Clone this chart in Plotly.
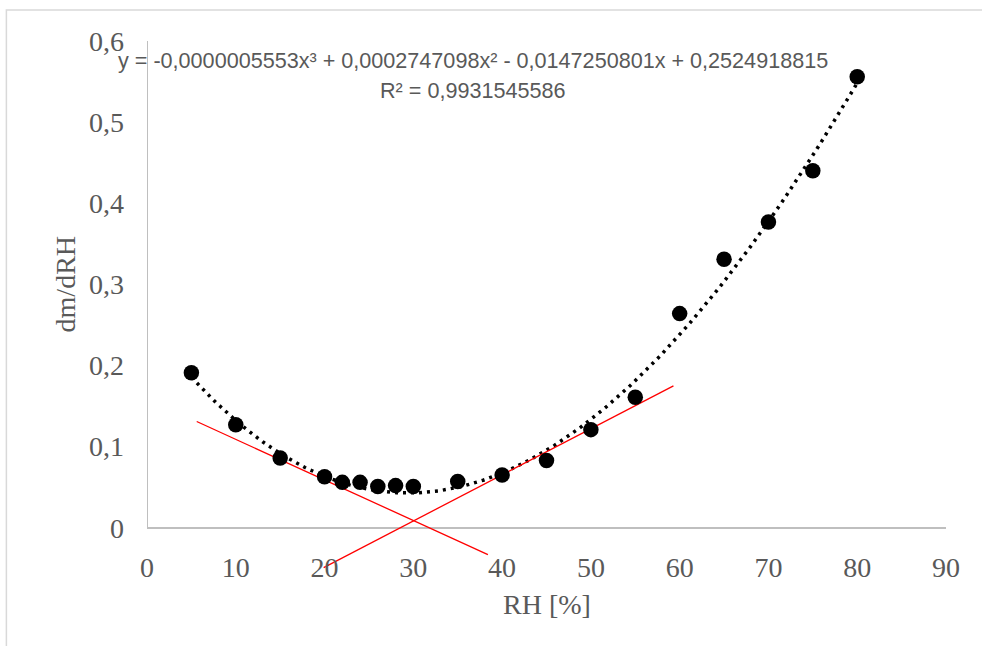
import numpy as np
import plotly.graph_objects as go

# Data
rh = [5, 10, 15, 20, 22, 24, 26, 28, 30, 35, 40, 45, 50, 55, 60, 65, 70, 75, 80]
dm = [0.191, 0.127, 0.086, 0.063, 0.056, 0.056, 0.051, 0.052, 0.051, 0.057,
      0.065, 0.083, 0.121, 0.161, 0.264, 0.331, 0.377, 0.440, 0.556]

# Polynomial trendline coefficients (as displayed on the chart)
trend_coeffs = [-0.0000005553, 0.0002747098, -0.0147250801, 0.2524918815]
trend_range = [5, 80]

# Red tangent lines (endpoints in data units)
tangent1_x = [5.6, 38.4]
tangent1_y = [0.131, -0.033]
tangent2_x = [19.9, 59.3]
tangent2_y = [-0.049, 0.175]

x_ticks = [0, 10, 20, 30, 40, 50, 60, 70, 80, 90]
x_ticklabels = ["0", "10", "20", "30", "40", "50", "60", "70", "80", "90"]
y_ticks = [0, 0.1, 0.2, 0.3, 0.4, 0.5, 0.6]
y_ticklabels = ["0", "0,1", "0,2", "0,3", "0,4", "0,5", "0,6"]

eq_text = "y = -0,0000005553x³ + 0,0002747098x² - 0,0147250801x + 0,2524918815"
r2_text = "R² = 0,9931545586"

GRAY = "#595959"
SERIF = "Liberation Serif, Times New Roman, serif"
SANS = "Liberation Sans Narrow, Liberation Sans, Arial, sans-serif"

tx = np.linspace(trend_range[0], trend_range[1], 300)
ty = np.polyval(trend_coeffs, tx)

fig = go.Figure()
fig.add_trace(go.Scatter(x=tx, y=ty, mode="lines",
                         line=dict(color="black", width=3.5, dash="3px,5px"),
                         hoverinfo="skip", showlegend=False))
fig.add_trace(go.Scatter(x=tangent1_x, y=tangent1_y, mode="lines",
                         line=dict(color="#ff0000", width=1.3), showlegend=False))
fig.add_trace(go.Scatter(x=tangent2_x, y=tangent2_y, mode="lines",
                         line=dict(color="#ff0000", width=1.3), showlegend=False))
fig.add_trace(go.Scatter(x=rh, y=dm, mode="markers",
                         marker=dict(color="black", size=15.5), showlegend=False))

# y-axis line from 0 to 0.6
fig.add_shape(type="line", xref="x", yref="y", x0=0, x1=0, y0=0, y1=0.6,
              line=dict(color="#bfbfbf", width=2), layer="above")
# outer chart frame
fig.add_shape(type="rect", xref="paper", yref="paper", x0=-0.176, x1=1.2,
              y0=-0.4, y1=1.0586, line=dict(color="#d9d9d9", width=1.5), layer="below")

fig.add_annotation(text=eq_text, xref="paper", yref="paper", x=0.408, y=0.964,
                   showarrow=False, font=dict(family=SANS, size=21.6, color=GRAY),
                   xanchor="center", yanchor="middle")
fig.add_annotation(text=r2_text, xref="paper", yref="paper", x=0.408, y=0.907,
                   showarrow=False, font=dict(family=SANS, size=21.6, color=GRAY),
                   xanchor="center", yanchor="middle")
fig.add_annotation(text="dm/dRH", xref="paper", yref="y", x=-0.1026, y=0.3,
                   showarrow=False, textangle=-90,
                   font=dict(family=SERIF, size=28, color=GRAY),
                   xanchor="center", yanchor="middle")
fig.add_annotation(text="RH [%]", xref="paper", yref="paper", x=0.5, y=-0.066,
                   showarrow=False, font=dict(family=SERIF, size=28, color=GRAY),
                   xanchor="center", yanchor="middle")

fig.update_layout(
    width=982, height=646,
    margin=dict(l=147, r=36, t=41, b=76),
    plot_bgcolor="white", paper_bgcolor="white",
    xaxis=dict(range=[0, 90], tickvals=x_ticks, ticktext=x_ticklabels,
               showgrid=False, zeroline=False, showline=False,
               ticks="", ticklabelstandoff=-22,
               tickfont=dict(family=SERIF, size=28, color=GRAY)),
    yaxis=dict(range=[-0.052, 0.6], tickvals=y_ticks, ticktext=y_ticklabels,
               showgrid=False, zeroline=True, zerolinecolor="#bfbfbf",
               zerolinewidth=2, showline=False, ticks="",
               ticklabelstandoff=22,
               tickfont=dict(family=SERIF, size=28, color=GRAY)),
)

fig.write_html("out.html")
